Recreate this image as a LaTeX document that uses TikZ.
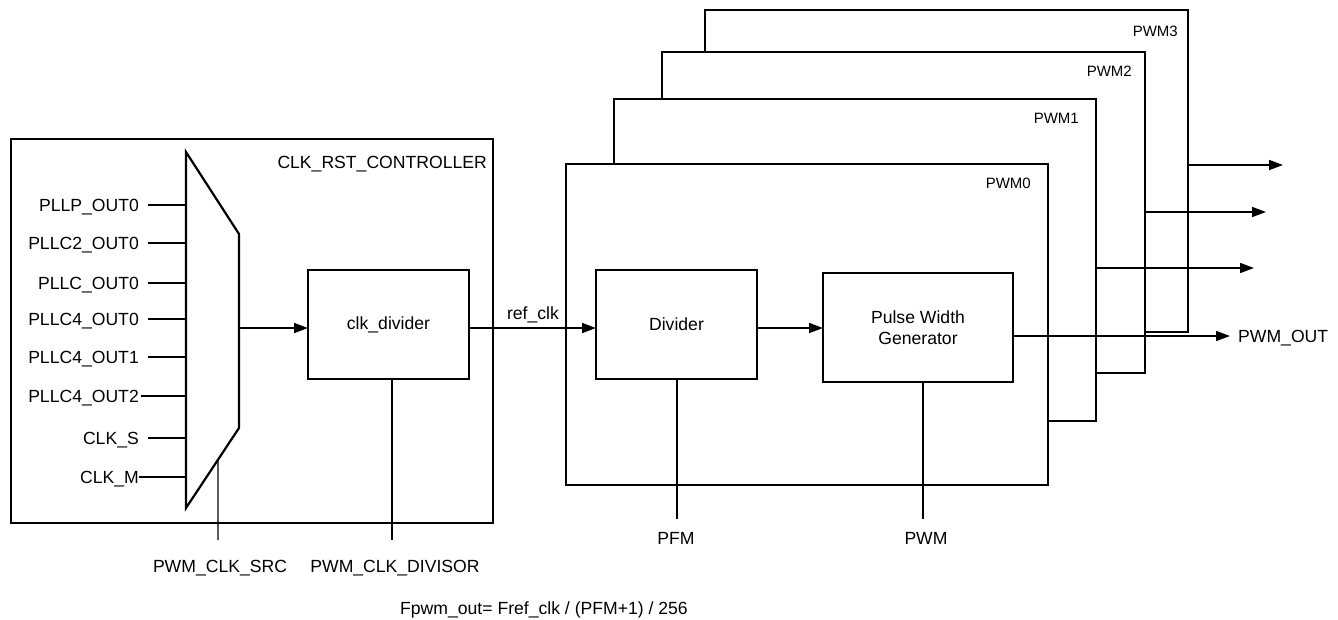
\documentclass[tikz,border=0pt]{standalone}
\usepackage{fontspec}
\setmainfont{Liberation Sans}
\usetikzlibrary{arrows.meta,calc}
\begin{document}
\begin{tikzpicture}[x=1pt,y=-1pt,
  lbl/.style={inner sep=0pt,font=\fontsize{17.6}{21}\selectfont},
  tag/.style={inner sep=0pt,font=\fontsize{15}{18}\selectfont},
  blk/.style={draw,line width=2.2pt,fill=white,inner sep=0pt,outer sep=0pt,anchor=north west},
  wire/.style={line width=1.6pt},
  ctlwire/.style={line width=1.3pt},
  sig/.style={wire,-{Triangle[length=14pt,width=10pt]}},
]
\useasboundingbox (0,0) rectangle (1338,619);

% clock and reset controller
\node[blk,minimum width=482pt,minimum height=384pt] (ctrl) at (11,139) {};
\node[lbl,anchor=base east] (ctrlname) at (487,168.3) {CLK\_RST\_CONTROLLER};

% source multiplexer
\coordinate (m1) at (186,152);
\coordinate (m2) at (239,234);
\coordinate (m3) at (239,428);
\coordinate (m4) at (186,508);
\draw[line width=2.2pt] (m1) -- (m2) -- (m3) -- (m4) -- cycle;

\foreach \i/\yy/\txt/\gap in {0/205/{PLLP\_OUT0}/9, 1/243/{PLLC2\_OUT0}/9,
    2/283/{PLLC\_OUT0}/9, 3/319/{PLLC4\_OUT0}/9, 4/357/{PLLC4\_OUT1}/9,
    5/396/{PLLC4\_OUT2}/1.5, 6/438/{CLK\_S}/9, 7/477/{CLK\_M}/0} {
  \coordinate (in\i) at (186,\yy);
  \node[lbl,anchor=base east] (src\i) at (139,\yy+6.3) {\txt};
  \draw[wire] ($(src\i.east |- in\i)+(\gap,0)$) -- (in\i);
}

% clock divider
\node[blk,lbl,minimum width=161pt,minimum height=109pt] (clkdiv) at (308,270) {clk\_divider};

% PWM instances, back to front
\node[blk,minimum width=483pt,minimum height=322pt] (pwm3) at (705,10) {};
\node[tag,anchor=base east] (pwm3name) at (1178,36.4) {PWM3};
\node[blk,minimum width=483pt,minimum height=321pt] (pwm2) at (662,52) {};
\node[tag,anchor=base east] (pwm2name) at (1132,76.4) {PWM2};
\node[blk,minimum width=482pt,minimum height=322pt] (pwm1) at (614,99) {};
\node[tag,anchor=base east] (pwm1name) at (1079,123.4) {PWM1};
\node[blk,minimum width=482pt,minimum height=321pt] (pwm0) at (566,164) {};
\node[tag,anchor=base east] (pwm0name) at (1031,188.4) {PWM0};

\node[blk,lbl,minimum width=161pt,minimum height=109pt] (divider) at (596,270) {Divider};
\node[blk,lbl,align=center,minimum width=190pt,minimum height=109pt] (pwg) at (823,273) {Pulse Width\\Generator};

% clock path
\coordinate (mo) at (239,328);
\draw[sig] (mo) -- (mo -| clkdiv.west);
\draw[sig] (clkdiv.east |- mo) -- (divider.west |- mo);
\node[lbl,anchor=base] (refclk) at (533,319) {ref\_clk};
\draw[sig] (divider.east |- mo) -- (pwg.west |- mo);

% outputs
\coordinate (outend) at (1230,336);
\draw[sig] (pwg.east |- outend) -- (outend);
\node[lbl,anchor=base west] (outname) at (1238,342.3) {PWM\_OUT};
\coordinate (o3) at (1283,165);
\draw[sig] (pwm3.east |- o3) -- (o3);
\coordinate (o2) at (1266,212);
\draw[sig] (pwm2.east |- o2) -- (o2);
\coordinate (o1) at (1254,268);
\draw[sig] (pwm1.east |- o1) -- (o1);

% control inputs
\coordinate (sel) at ($(m3)!0.396!(m4)$);
\coordinate (selend) at (218,540);
\draw[ctlwire] (sel) -- (selend);
\node[lbl,anchor=base] (selname) at (220,572) {PWM\_CLK\_SRC};

\coordinate (divend) at (392,540);
\draw[ctlwire] (divend |- clkdiv.south) -- (divend);
\node[lbl,anchor=base] (divname) at (395,572) {PWM\_CLK\_DIVISOR};

\coordinate (pfmend) at (677,519);
\draw[ctlwire] (pfmend |- divider.south) -- (pfmend);
\node[lbl,anchor=base] (pfmname) at (676,544) {PFM};

\coordinate (pwmend) at (923,519);
\draw[ctlwire] (pwmend |- pwg.south) -- (pwmend);
\node[lbl,anchor=base] (pwmname) at (926,544) {PWM};

\node[lbl,anchor=base west] (formula) at (400,614) {Fpwm\_out= Fref\_clk / (PFM+1) / 256};
\end{tikzpicture}
\end{document}
